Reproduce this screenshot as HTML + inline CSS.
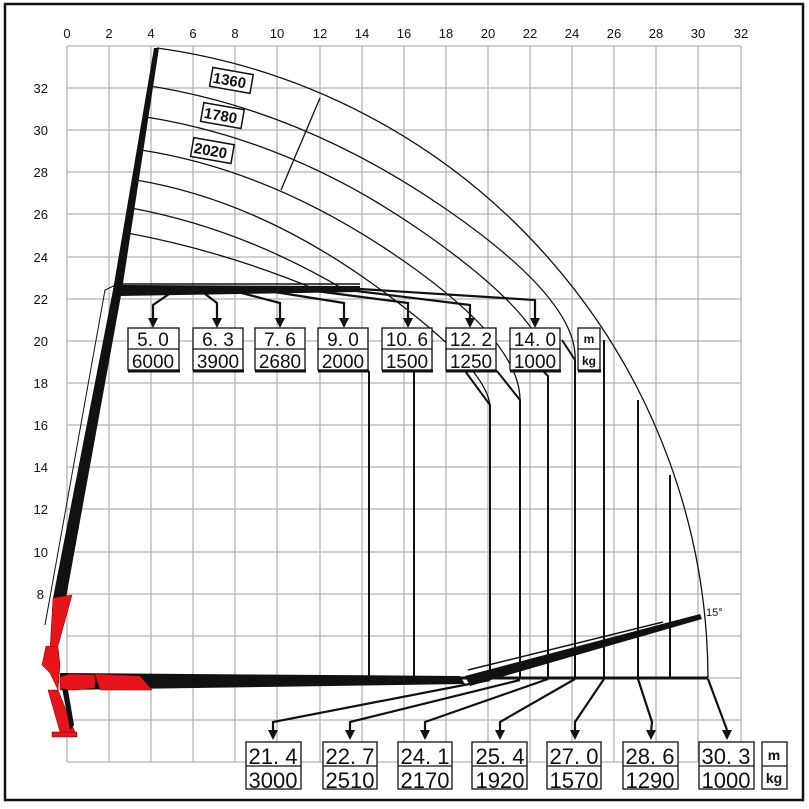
<!DOCTYPE html>
<html><head><meta charset="utf-8"><style>
body{margin:0;background:#fff}
svg{display:block}
text{font-family:"Liberation Sans",sans-serif}
</style></head><body>
<svg width="809" height="809" viewBox="0 0 809 809" xmlns="http://www.w3.org/2000/svg">
<rect x="0" y="0" width="809" height="809" fill="#fff"/>
<rect x="5" y="4" width="798" height="796" fill="none" stroke="#111" stroke-width="2.5"/>
<g stroke="#b4b4b4" stroke-width="1.3">
<line x1="67" y1="46" x2="67" y2="762"/><line x1="109" y1="46" x2="109" y2="762"/><line x1="151" y1="46" x2="151" y2="762"/>
<line x1="193" y1="46" x2="193" y2="762"/><line x1="235" y1="46" x2="235" y2="762"/>
<line x1="277" y1="46" x2="277" y2="762"/><line x1="320" y1="46" x2="320" y2="762"/>
<line x1="362" y1="46" x2="362" y2="762"/><line x1="404" y1="46" x2="404" y2="762"/>
<line x1="446" y1="46" x2="446" y2="762"/><line x1="488" y1="46" x2="488" y2="762"/>
<line x1="530" y1="46" x2="530" y2="762"/><line x1="572" y1="46" x2="572" y2="762"/>
<line x1="614" y1="46" x2="614" y2="762"/><line x1="656" y1="46" x2="656" y2="762"/>
<line x1="698" y1="46" x2="698" y2="762"/><line x1="741" y1="46" x2="741" y2="762"/>
<line x1="67" y1="46" x2="741" y2="46"/>
<line x1="67" y1="88" x2="741" y2="88"/><line x1="67" y1="130" x2="741" y2="130"/>
<line x1="67" y1="172" x2="741" y2="172"/><line x1="67" y1="214" x2="741" y2="214"/>
<line x1="67" y1="257" x2="741" y2="257"/><line x1="67" y1="299" x2="741" y2="299"/>
<line x1="67" y1="341" x2="741" y2="341"/><line x1="67" y1="383" x2="741" y2="383"/>
<line x1="67" y1="425" x2="741" y2="425"/><line x1="67" y1="467" x2="741" y2="467"/>
<line x1="67" y1="509" x2="741" y2="509"/><line x1="67" y1="552" x2="741" y2="552"/>
<line x1="67" y1="594" x2="741" y2="594"/><line x1="67" y1="636" x2="741" y2="636"/>
<line x1="67" y1="678" x2="741" y2="678"/><line x1="67" y1="720" x2="741" y2="720"/>
<line x1="67" y1="762" x2="741" y2="762"/>
</g>
<g font-size="13" fill="#111" text-anchor="middle">
<text x="67" y="38">0</text><text x="109" y="38">2</text><text x="151" y="38">4</text><text x="193" y="38">6</text><text x="235" y="38">8</text><text x="277" y="38">10</text><text x="320" y="38">12</text><text x="362" y="38">14</text><text x="404" y="38">16</text><text x="446" y="38">18</text><text x="488" y="38">20</text><text x="530" y="38">22</text><text x="572" y="38">24</text><text x="614" y="38">26</text><text x="656" y="38">28</text><text x="698" y="38">30</text><text x="741" y="38">32</text>
</g>
<g font-size="13" fill="#111" text-anchor="end">
<text x="48" y="93">32</text><text x="48" y="135">30</text><text x="48" y="177">28</text><text x="48" y="219">26</text><text x="48" y="262">24</text><text x="48" y="304">22</text><text x="48" y="346">20</text><text x="48" y="388">18</text><text x="48" y="430">16</text><text x="48" y="472">14</text><text x="48" y="514">12</text><text x="48" y="557">10</text><text x="44" y="599">8</text>
</g>
<g fill="none" stroke="#111" stroke-width="1.3">
<path d="M157 48 A638 638 0 0 1 708 678"/>
<path d="M150 86 Q300 110 440 205 T575 362"/>
<path d="M146 117 Q290 140 420 230 T548 372"/>
<path d="M141 150 Q270 170 395 255 T520 400"/>
<path d="M136 180 Q255 200 370 282 T490 405"/>
<path d="M131 208 Q240 228 345 290"/>
<path d="M127 233 Q220 250 315 289"/>
<line x1="320" y1="98" x2="281" y2="190"/>
</g>
<g font-size="15" font-weight="bold" fill="#111">
<g transform="rotate(10 232 80)"><rect x="211" y="71" width="41" height="19" fill="#fff" stroke="#111" stroke-width="1.5"/><text x="213" y="86">1360</text></g>
<g transform="rotate(10 222 115)"><rect x="202" y="106" width="41" height="19" fill="#fff" stroke="#111" stroke-width="1.5"/><text x="204" y="121">1780</text></g>
<g transform="rotate(10 212 150)"><rect x="192" y="141" width="41" height="19" fill="#fff" stroke="#111" stroke-width="1.5"/><text x="194" y="156">2020</text></g>
</g>
<g stroke="#111" stroke-width="2" fill="none">
<line x1="369" y1="371" x2="369" y2="678"/>
<line x1="414" y1="371" x2="414" y2="678"/>
<polyline points="465,371 490,405 490,678"/>
<polyline points="497,371 520,400 520,678"/>
<polyline points="543,371 548,376 548,678"/>
<polyline points="562,340 575,360 575,678"/>
<line x1="604" y1="340" x2="604" y2="678"/>
<line x1="638" y1="400" x2="638" y2="678"/>
<line x1="670" y1="475" x2="670" y2="678"/>
</g>
<polygon points="53,598 66,598 122,290 159,48 154,48 113,290" fill="#111"/>
<polyline points="45,625 105,290 122,282" fill="none" stroke="#111" stroke-width="1"/>
<polygon points="114,285 360,286 360,292 118,296" fill="#111"/>
<line x1="118" y1="284" x2="360" y2="284" stroke="#111" stroke-width="1.5"/>
<g stroke="#111" stroke-width="2.2" fill="none">
<polyline points="360,289 535,300 535,320"/>
<polyline points="340,289 470,305 470,320"/>
<polyline points="300,289 408,303 408,320"/>
<polyline points="262,290 344,303 344,320"/>
<polyline points="230,290 280,303 280,320"/>
<polyline points="200,290 217,303 217,320"/>
<polyline points="175,290 153,305 153,320"/>
</g>
<g fill="#111">
<polygon points="148,318 158,318 153,328"/><polygon points="212,318 222,318 217,328"/><polygon points="275,318 285,318 280,328"/><polygon points="339,318 349,318 344,328"/><polygon points="403,318 413,318 408,328"/><polygon points="465,318 475,318 470,328"/><polygon points="530,318 540,318 535,328"/>
</g>
<g fill="#fff" stroke="#111" stroke-width="1.3">
<rect x="128" y="328" width="51" height="42"/><rect x="193" y="328" width="50" height="42"/><rect x="255" y="328" width="50" height="42"/><rect x="318" y="328" width="50" height="42"/><rect x="382" y="328" width="50" height="42"/><rect x="446" y="328" width="50" height="42"/><rect x="510" y="328" width="50" height="42"/><rect x="578" y="328" width="22" height="42"/>
</g>
<g stroke="#111" stroke-width="1.3">
<line x1="128" y1="349" x2="179" y2="349"/><line x1="193" y1="349" x2="243" y2="349"/><line x1="255" y1="349" x2="305" y2="349"/><line x1="318" y1="349" x2="368" y2="349"/><line x1="382" y1="349" x2="432" y2="349"/><line x1="446" y1="349" x2="496" y2="349"/><line x1="510" y1="349" x2="560" y2="349"/><line x1="578" y1="349" x2="600" y2="349"/>
</g>
<g stroke="#111" stroke-width="3">
<line x1="128" y1="371" x2="180" y2="371"/><line x1="193" y1="371" x2="244" y2="371"/><line x1="255" y1="371" x2="306" y2="371"/><line x1="318" y1="371" x2="369" y2="371"/><line x1="382" y1="371" x2="433" y2="371"/><line x1="446" y1="371" x2="497" y2="371"/><line x1="510" y1="371" x2="561" y2="371"/><line x1="578" y1="371" x2="601" y2="371"/>
</g>
<g font-size="19" fill="#111" text-anchor="middle">
<text x="153" y="346">5. 0</text><text x="153" y="368">6000</text>
<text x="218" y="346">6. 3</text><text x="218" y="368">3900</text>
<text x="280" y="346">7. 6</text><text x="280" y="368">2680</text>
<text x="343" y="346">9. 0</text><text x="343" y="368">2000</text>
<text x="407" y="346">10. 6</text><text x="407" y="368">1500</text>
<text x="471" y="346">12. 2</text><text x="471" y="368">1250</text>
<text x="535" y="346">14. 0</text><text x="535" y="368">1000</text>
</g>
<g font-size="12" font-weight="bold" fill="#111" text-anchor="middle"><text x="589" y="343">m</text><text x="589" y="365">kg</text></g>
<polygon points="60,673 460,676 465,684 60,690" fill="#111"/>
<line x1="460" y1="678" x2="708" y2="678" stroke="#111" stroke-width="3"/>
<polygon points="465,676 700,614 702,619 470,686" fill="#111"/>
<line x1="468" y1="670" x2="663" y2="622" stroke="#111" stroke-width="1.5"/>
<text x="706" y="616" font-size="11" fill="#111">15°</text>
<g fill="#e8141c" stroke="#800" stroke-width="0.5">
<polygon points="50,650 58,646 72,595 53,598"/>
<polygon points="46,646 58,647 60,665 58,690 50,673 42,665"/>
<polygon points="60,677 70,674 95,675 95,688 75,690 60,690"/>
<polygon points="95,674 140,676 152,690 100,690"/>
<polygon points="48,690 58,690 75,732 60,732"/>
<rect x="52" y="732" width="25" height="5"/>
</g>
<polygon points="62,688 68,690 74,725 70,730" fill="#111"/>
<g stroke="#111" stroke-width="2.2" fill="none">
<polyline points="490,680 273,722 273,732"/>
<polyline points="520,680 350,722 350,732"/>
<polyline points="548,679 425,722 425,732"/>
<polyline points="575,679 500,722 500,732"/>
<polyline points="604,679 575,722 575,732"/>
<polyline points="638,679 652,722 651,732"/>
<polyline points="708,679 727,730"/>
</g>
<g fill="#111">
<polygon points="268,730 278,730 273,740"/><polygon points="345,730 355,730 350,740"/><polygon points="420,730 430,730 425,740"/><polygon points="495,730 505,730 500,740"/><polygon points="570,730 580,730 575,740"/><polygon points="646,730 656,730 651,740"/><polygon points="722,730 732,730 727,740"/>
</g>
<g fill="#fff" stroke="#111" stroke-width="1.3">
<rect x="246" y="742" width="55" height="47"/><rect x="323" y="742" width="54" height="47"/><rect x="398" y="742" width="54" height="47"/><rect x="472" y="742" width="55" height="47"/><rect x="547" y="742" width="54" height="47"/><rect x="623" y="742" width="55" height="47"/><rect x="699" y="742" width="55" height="47"/><rect x="762" y="742" width="25" height="47"/>
<line x1="246" y1="766" x2="301" y2="766"/><line x1="323" y1="766" x2="377" y2="766"/><line x1="398" y1="766" x2="452" y2="766"/><line x1="472" y1="766" x2="527" y2="766"/><line x1="547" y1="766" x2="601" y2="766"/><line x1="623" y1="766" x2="678" y2="766"/><line x1="699" y1="766" x2="754" y2="766"/><line x1="762" y1="766" x2="787" y2="766"/>
</g>
<g font-size="22" fill="#111" text-anchor="middle">
<text x="273" y="764">21. 4</text><text x="273" y="788">3000</text>
<text x="350" y="764">22. 7</text><text x="350" y="788">2510</text>
<text x="425" y="764">24. 1</text><text x="425" y="788">2170</text>
<text x="500" y="764">25. 4</text><text x="500" y="788">1920</text>
<text x="574" y="764">27. 0</text><text x="574" y="788">1570</text>
<text x="650" y="764">28. 6</text><text x="650" y="788">1290</text>
<text x="726" y="764">30. 3</text><text x="726" y="788">1000</text>
</g>
<g font-size="14" font-weight="bold" fill="#111" text-anchor="middle"><text x="774" y="760">m</text><text x="774" y="783">kg</text></g>
</svg>
</body></html>
